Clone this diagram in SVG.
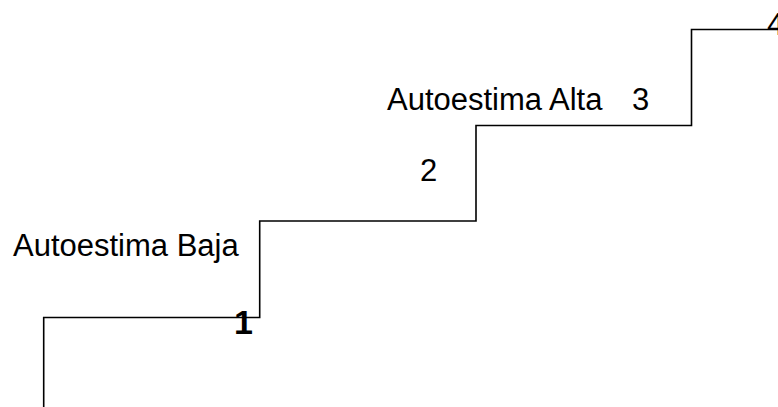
<svg xmlns="http://www.w3.org/2000/svg" width="778" height="407" viewBox="0 0 778 407">
<style>
.lbl{font-family:"Liberation Sans",Arial,sans-serif;font-size:31px;fill:#000}
.b{font-weight:bold;font-size:34px}
.stair{fill:none;stroke:#000;stroke-width:1.6}
</style>
<rect width="778" height="407" fill="#fff"/>
<g id="connectors">
<path class="stair" d="M43.7,407 V317.5 H259.7 V221 H476 V125.5 H691.5 V29.5 H778"/>
</g>
<g id="label-baja"><text class="lbl" x="13" y="256">Autoestima Baja</text></g>
<g id="label-alta"><text class="lbl" x="387" y="110">Autoestima Alta</text></g>
<g id="step-1"><text class="lbl b" x="234" y="334">1</text></g>
<g id="step-2"><text class="lbl" x="420" y="181">2</text></g>
<g id="step-3"><text class="lbl" x="632" y="110">3</text></g>
<g id="step-4"><text class="lbl" x="767" y="35">4</text></g>
</svg>
